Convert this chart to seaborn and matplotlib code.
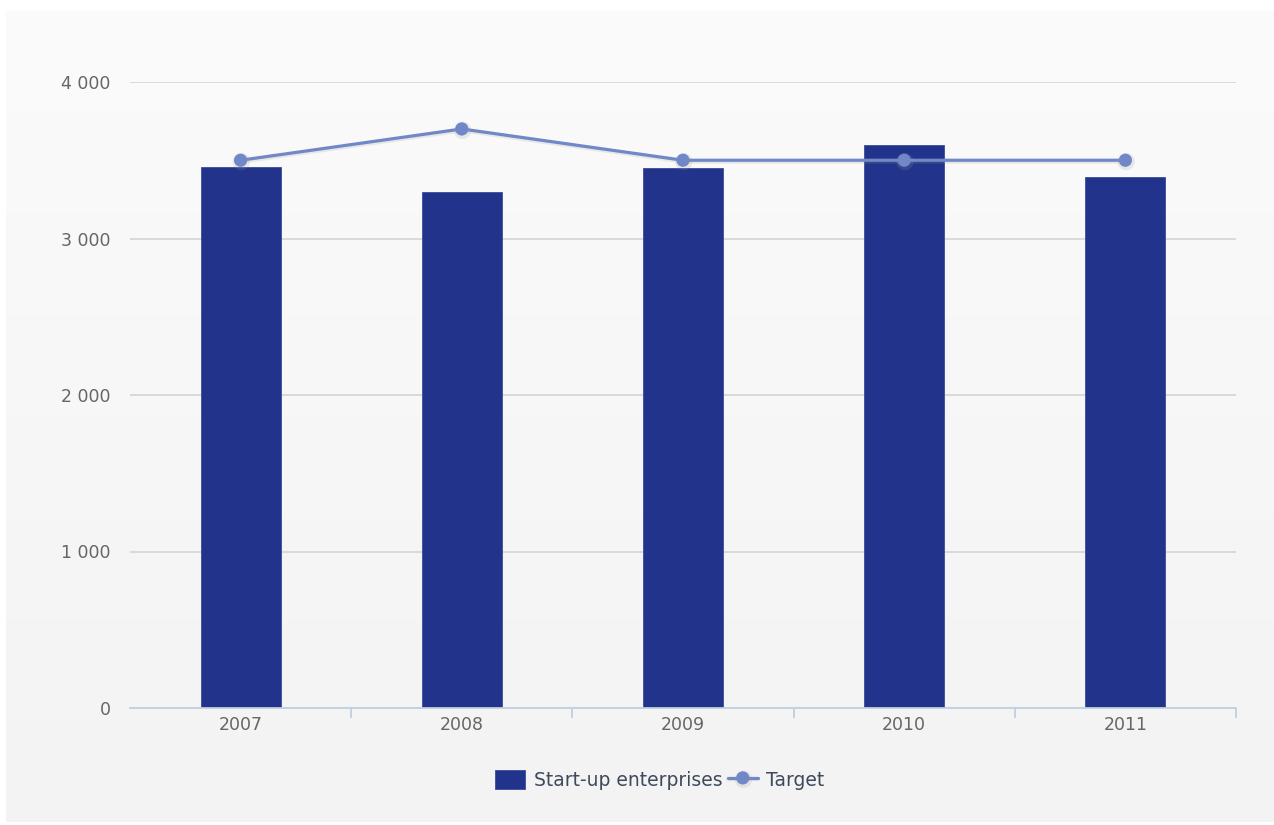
import numpy as np
import pandas as pd
import matplotlib
matplotlib.use("Agg")
import matplotlib.pyplot as plt
import matplotlib.patheffects as pe
from matplotlib.ticker import FuncFormatter, FixedLocator
import seaborn as sns

# Data
years = ["2007", "2008", "2009", "2010", "2011"]
startups = [3460, 3300, 3450, 3600, 3390]
target = [3500, 3700, 3500, 3500, 3500]

BAR_COLOR = "#21338a"
LINE_COLOR = "#7088c7"
AXIS_COLOR = "#c0d0e0"
GRID_COLOR = "#d4d4d4"
LABEL_COLOR = "#666666"
LEGEND_COLOR = "#3e4a5c"

sns.set_theme(style="white")
plt.rcParams["font.family"] = ["DejaVu Sans"]

W, H = 1274, 825
fig = plt.figure(figsize=(W / 100, H / 100), dpi=100)
fig.patch.set_facecolor("white")

# Soft vertical gradient panel behind the chart
bg = fig.add_axes([6 / W, 1 - 822 / H, 1 - 6 / W, (822 - 10) / H], zorder=0)
grad = np.linspace(0, 1, 256).reshape(-1, 1)
bg.imshow(grad, aspect="auto", cmap=matplotlib.colors.LinearSegmentedColormap.from_list(
    "bg", ["#f3f3f3", "#fbfbfb"]), origin="lower", extent=[0, 1, 0, 1])
bg.set_axis_off()

left, right, top, bottom = 130, 1236, 82, 708
ax = fig.add_axes([left / W, 1 - bottom / H, (right - left) / W, (bottom - top) / H], zorder=1)
ax.patch.set_alpha(0)

df = pd.DataFrame({"year": years, "startups": startups, "target": target})

sns.barplot(data=df, x="year", y="startups", order=years, color=BAR_COLOR,
            width=0.362, saturation=1, ax=ax, zorder=3, edgecolor="#3a4b9a",
            linewidth=0.6, label="Start-up enterprises")

pos = np.arange(len(years))
sns.lineplot(x=pos, y=df["target"].to_numpy(), ax=ax, color=LINE_COLOR, linewidth=2.3,
             marker="o", markersize=9.5, markeredgewidth=0, zorder=4, label="Target",
             path_effects=[pe.SimpleLineShadow(offset=(0.5, -1.0), shadow_color="#999999",
                                               alpha=0.18, linewidth=3.0),
                           pe.Normal()])

ax.set_xlim(-0.5, len(years) - 0.5)
ax.set_ylim(0, 4000)
ax.set_xlabel("")
ax.set_ylabel("")

ax.yaxis.set_major_locator(FixedLocator([0, 1000, 2000, 3000, 4000]))
ax.yaxis.set_major_formatter(FuncFormatter(lambda v, p: f"{int(v):,}".replace(",", " ")))
ax.grid(axis="y", color=GRID_COLOR, linewidth=1.2, zorder=0)
ax.grid(axis="x", visible=False)
ax.set_axisbelow(True)

for s in ["left", "right", "top"]:
    ax.spines[s].set_visible(False)
ax.spines["bottom"].set_color(AXIS_COLOR)
ax.spines["bottom"].set_linewidth(1.3)
ax.spines["bottom"].set_zorder(5)

ax.tick_params(axis="y", length=0, pad=14, labelsize=12.5, labelcolor=LABEL_COLOR)
ax.set_xticks(pos)
ax.set_xticklabels(years)
ax.tick_params(axis="x", which="major", bottom=True, length=0, pad=6, labelsize=12.5,
               labelcolor=LABEL_COLOR)

# Category boundary ticks below the axis
ax.set_xticks(np.arange(0.5, len(years) + 0.5, 1.0), minor=True)
ax.tick_params(axis="x", which="minor", bottom=True, length=7, width=1.3,
               color=AXIS_COLOR, direction="out")

handles, labels = ax.get_legend_handles_labels()
order = [labels.index("Start-up enterprises"), labels.index("Target")]
ax.legend([handles[i] for i in order], [labels[i] for i in order],
          loc="upper center", bbox_to_anchor=(0.479, -0.072), ncol=2, frameon=False,
          fontsize=13.5, handlelength=1.6, handleheight=1.2, columnspacing=0.3,
          handletextpad=0.45, labelcolor=LEGEND_COLOR)

fig.savefig("out.png", dpi=100)
